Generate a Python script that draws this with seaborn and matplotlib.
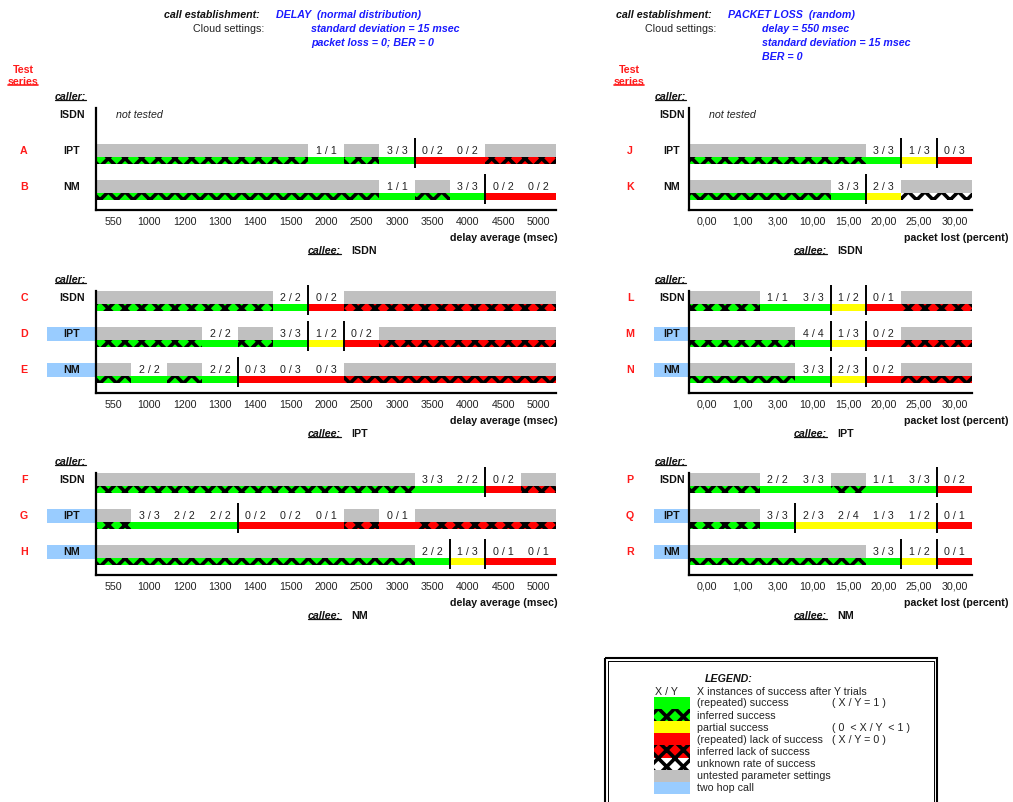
import numpy as np
import matplotlib
matplotlib.use("Agg")
import matplotlib.pyplot as plt
from matplotlib.patches import Rectangle
from matplotlib.lines import Line2D
import seaborn as sns

# x categories of the two test families
delay_ticks = ["550", "1000", "1200", "1300", "1400", "1500", "2000",
               "2500", "3000", "3500", "4000", "4500", "5000"]
loss_ticks = ["0,00", "1,00", "3,00", "10,00", "15,00", "20,00", "25,00", "30,00"]

callers = ["ISDN", "IPT", "NM"]
callees = ["ISDN", "IPT", "NM"]

# cell codes: "X/Y" tested (X successes after Y trials)
# g = untested, inferred success; r = untested, inferred lack of success
# u = untested, unknown rate of success
series_A = ["g", "g", "g", "g", "g", "g", "1/1", "g", "3/3", "0/2", "0/2", "r", "r"]
series_B = ["g", "g", "g", "g", "g", "g", "g", "g", "1/1", "g", "3/3", "0/2", "0/2"]
series_C = ["g", "g", "g", "g", "g", "2/2", "0/2", "r", "r", "r", "r", "r", "r"]
series_D = ["g", "g", "g", "2/2", "g", "3/3", "1/2", "0/2", "r", "r", "r", "r", "r"]
series_E = ["g", "2/2", "g", "2/2", "0/3", "0/3", "0/3", "r", "r", "r", "r", "r", "r"]
series_F = ["g", "g", "g", "g", "g", "g", "g", "g", "g", "3/3", "2/2", "0/2", "r"]
series_G = ["g", "3/3", "2/2", "2/2", "0/2", "0/2", "0/1", "r", "0/1", "r", "r", "r", "r"]
series_H = ["g", "g", "g", "g", "g", "g", "g", "g", "g", "2/2", "1/3", "0/1", "0/1"]

series_J = ["g", "g", "g", "g", "g", "3/3", "1/3", "0/3"]
series_K = ["g", "g", "g", "g", "3/3", "2/3", "u", "u"]
series_L = ["g", "g", "1/1", "3/3", "1/2", "0/1", "r", "r"]
series_M = ["g", "g", "g", "4/4", "1/3", "0/2", "r", "r"]
series_N = ["g", "g", "g", "3/3", "2/3", "0/2", "r", "r"]
series_P = ["g", "g", "2/2", "3/3", "g", "1/1", "3/3", "0/2"]
series_Q = ["g", "g", "3/3", "2/3", "2/4", "1/3", "1/2", "0/1"]
series_R = ["g", "g", "g", "g", "g", "3/3", "1/2", "0/1"]

delay_rows = [[None, series_A, series_B],
              [series_C, series_D, series_E],
              [series_F, series_G, series_H]]
delay_letters = [["", "A", "B"], ["C", "D", "E"], ["F", "G", "H"]]
loss_rows = [[None, series_J, series_K],
             [series_L, series_M, series_N],
             [series_P, series_Q, series_R]]
loss_letters = [["", "J", "K"], ["L", "M", "N"], ["P", "Q", "R"]]
two_hop = [[False, False, False], [False, True, True], [False, True, True]]

GREEN, YELLOW, RED = "#00ff00", "#ffff00", "#ff0000"
GREY, HOP_BLUE = "#c0c0c0", "#99ccff"
HEAD_BLUE, LETTER_RED = "#1a1aff", "#ff1a1a"

W, H = 1013, 803
FS = 7.7
CELL_W = 35.4
PITCH, GREY_H, STRIP_H = 36, 12.5, 7.5
PANEL_H = 102
panel_tops = [109, 292, 474]
PATTERN = "xx"

sns.set_theme(style="white")
plt.rcParams["font.family"] = ["Liberation Sans", "DejaVu Sans"]
plt.rcParams["hatch.linewidth"] = 2.6
plt.rcParams["hatch.color"] = "black"


def result_class(code):
    if code == "g":
        return "ok"
    if code == "r":
        return "fail"
    if code == "u":
        return None
    x, y = (int(v) for v in code.split("/"))
    if x == y:
        return "ok"
    return "fail" if x == 0 else "part"


CLASS_COLOR = {"ok": GREEN, "part": YELLOW, "fail": RED, None: "white"}

fig = plt.figure(figsize=(W / 100, H / 100), dpi=100)
ov = fig.add_axes([0, 0, 1, 1])
ov.set_xlim(0, W)
ov.set_ylim(H, 0)
ov.axis("off")

to_underline = []


def put(x, y, s, **kw):
    kw.setdefault("fontsize", FS)
    kw.setdefault("va", "center")
    return ov.text(x, y, s, **kw)


def draw_panel(ax, rows, ticks):
    n = len(ticks)
    for k, row in enumerate(rows):
        if row is None:
            continue
        top = k * PITCH
        for i, code in enumerate(row):
            cls = result_class(code)
            if code in ("g", "r", "u"):
                ax.bar(i + 0.5, GREY_H, bottom=top, width=1, color=GREY, linewidth=0)
                ax.bar(i + 0.5, STRIP_H, bottom=top + GREY_H, width=1,
                       facecolor=CLASS_COLOR[cls], edgecolor="black",
                       hatch=PATTERN, linewidth=0)
            else:
                x, y = code.split("/")
                ax.text(i + 0.5, top + GREY_H / 2, f"{x} / {y}", fontsize=FS,
                        ha="center", va="center", color="#222222")
                ax.bar(i + 0.5, STRIP_H, bottom=top + GREY_H, width=1,
                       color=CLASS_COLOR[cls], linewidth=0)
        # threshold markers where the known outcome changes
        for i in range(n - 1):
            a, b = result_class(row[i]), result_class(row[i + 1])
            if a and b and a != b:
                ax.vlines(i + 1, top - 6, top + GREY_H + STRIP_H + 4,
                          color="black", linewidth=1.4, clip_on=False)
    ax.set_xlim(0, n)
    ax.set_ylim(PANEL_H, 0)
    ax.set_facecolor("none")
    ax.set_xticks(np.arange(n) + 0.5)
    ax.set_xticklabels(ticks)
    ax.set_yticks([])
    ax.tick_params(axis="x", length=0, pad=4.3, labelsize=FS, colors="#222222")
    sns.despine(ax=ax)
    for side in ("left", "bottom"):
        ax.spines[side].set_color("black")
        ax.spines[side].set_linewidth(1.6)


columns = [
    dict(left=96, ticks=delay_ticks, rows=delay_rows, letters=delay_letters,
         letter_x=24, caller_x=72, hop_x=47, xlabel="delay average (msec)",
         xlabel_x=558, callee_x=341, test_x=23,
         call_x=260, call_title="DELAY  (normal distribution)", title_x=276,
         cloud_x=264, set_x=311,
         settings=["standard deviation = 15 msec", "packet loss = 0; BER = 0"]),
    dict(left=689, ticks=loss_ticks, rows=loss_rows, letters=loss_letters,
         letter_x=630, caller_x=672, hop_x=654, xlabel="packet lost (percent)",
         xlabel_x=1009, callee_x=827, test_x=629,
         call_x=712, call_title="PACKET LOSS  (random)", title_x=728,
         cloud_x=716, set_x=762,
         settings=["delay = 550 msec", "standard deviation = 15 msec", "BER = 0"]),
]

for col in columns:
    # header
    put(col["call_x"], 15, "call establishment:", ha="right",
        fontweight="bold", fontstyle="italic", color="#111111")
    put(col["title_x"], 15, col["call_title"], ha="left",
        fontweight="bold", fontstyle="italic", color=HEAD_BLUE)
    put(col["cloud_x"], 29, "Cloud settings:", ha="right", color="#222222")
    for j, s in enumerate(col["settings"]):
        put(col["set_x"], 29 + 14 * j, s, ha="left",
            fontweight="bold", fontstyle="italic", color=HEAD_BLUE)
    put(col["test_x"], 70, "Test", ha="center", fontweight="bold", color=LETTER_RED)
    t = put(col["test_x"], 82, "series", ha="center", fontweight="bold", color=LETTER_RED)
    to_underline.append((t, LETTER_RED, 1.2))

    n = len(col["ticks"])
    for p, ptop in enumerate(panel_tops):
        ax = fig.add_axes([col["left"] / W, 1 - (ptop + PANEL_H) / H,
                           n * CELL_W / W, PANEL_H / H])
        draw_panel(ax, col["rows"][p], col["ticks"])

        t = put(col["caller_x"] - 17, ptop - 12, "caller:", ha="left",
                fontweight="bold", fontstyle="italic", color="#111111")
        to_underline.append((t, "#111111", 0.9))
        for k in range(3):
            yc = ptop + k * PITCH + 6
            if two_hop[p][k]:
                ov.add_patch(Rectangle((col["hop_x"], ptop + k * PITCH),
                                       col["left"] - col["hop_x"], GREY_H + 1,
                                       facecolor=HOP_BLUE, linewidth=0))
            put(col["caller_x"], yc, callers[k], ha="center",
                fontweight="bold", color="#111111")
            if col["letters"][p][k]:
                put(col["letter_x"], yc, col["letters"][p][k], ha="center",
                    fontweight="bold", color=LETTER_RED)
            if col["rows"][p][k] is None:
                put(col["left"] + 20, yc, "not tested", ha="left",
                    fontstyle="italic", color="#222222")

        base = ptop + PANEL_H
        put(col["xlabel_x"], base + 27, col["xlabel"], ha="right",
            fontweight="bold", color="#111111")
        t = put(col["callee_x"], base + 40, "callee:", ha="right",
                fontweight="bold", fontstyle="italic", color="#111111")
        to_underline.append((t, "#111111", 0.9))
        put(col["callee_x"] + 10, base + 40, callees[p], ha="left",
            fontweight="bold", color="#111111")

# legend box
lx0, lx1, ly0, ly1 = 605, 937, 659, 812
ov.add_patch(Rectangle((lx0, ly0), lx1 - lx0, ly1 - ly0, fill=False,
                       edgecolor="black", linewidth=1.5, clip_on=False))
ov.add_patch(Rectangle((lx0 + 2.8, ly0 + 2.8), lx1 - lx0 - 5.6, ly1 - ly0, fill=False,
                       edgecolor="black", linewidth=0.7, clip_on=False))
put(705, 679, "LEGEND:", ha="left", fontweight="bold", fontstyle="italic", color="#111111")
put(655, 692.5, "X / Y", ha="left", color="#222222")
put(697, 692.5, "X instances of success after Y trials", ha="left", color="#222222")

legend_items = [
    (GREEN, None, "(repeated) success", "( X / Y = 1 )"),
    (GREEN, PATTERN, "inferred success", ""),
    (YELLOW, None, "partial success", "( 0  < X / Y  < 1 )"),
    (RED, None, "(repeated) lack of success", "( X / Y = 0 )"),
    (RED, PATTERN, "inferred lack of success", ""),
    ("white", PATTERN, "unknown rate of success", ""),
    (GREY, None, "untested parameter settings", ""),
    (HOP_BLUE, None, "two hop call", ""),
]
for j, (fc, hatch, label, note) in enumerate(legend_items):
    y0 = 698 + 12.1 * j
    ov.add_patch(Rectangle((654, y0), 36, 12.1, facecolor=fc, edgecolor="black",
                           hatch=hatch, linewidth=0))
    put(697, y0 + 5.5, label, ha="left", color="#222222")
    if note:
        put(832, y0 + 5.5, note, ha="left", color="#222222")

# underlines for the underlined captions
renderer = fig.canvas.get_renderer()
for t, c, lw in to_underline:
    bb = t.get_window_extent(renderer=renderer)
    yy = H - bb.y0 - 0.8
    ov.add_line(Line2D([bb.x0, bb.x1], [yy, yy], color=c, linewidth=lw))

fig.savefig("out.png", dpi=100)
